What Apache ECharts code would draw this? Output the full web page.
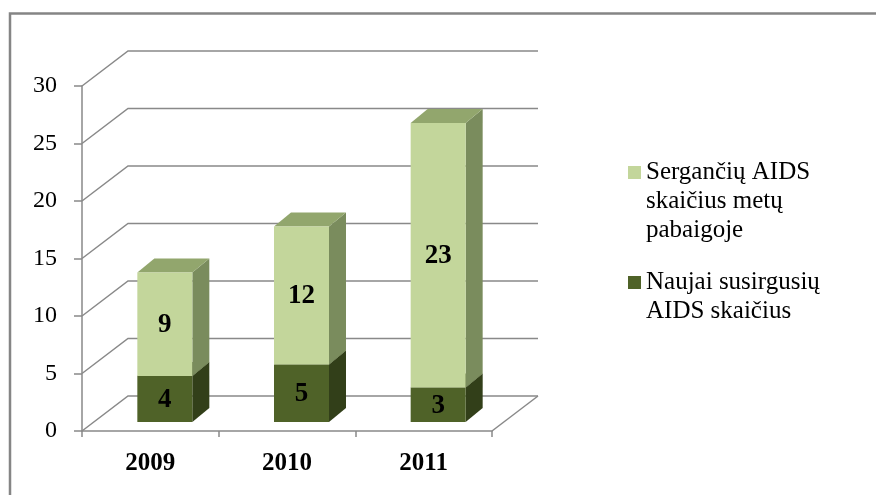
<!DOCTYPE html>
<html><head><meta charset="utf-8">
<script src="https://cdn.jsdelivr.net/npm/echarts@6/dist/echarts.min.js"></script>
<style>html,body{margin:0;padding:0;background:#fff}#c{width:876px;height:495px}</style>
</head><body><div id="c"></div>
<script>
const categories = ['2009', '2010', '2011'];
const newCases = [4, 5, 3];
const endCases = [9, 12, 23];
const yTicks = [0, 5, 10, 15, 20, 25, 30];
const lightName = 'Sergančių AIDS\nskaičius metų\npabaigoje';
const darkName = 'Naujai susirgusių\nAIDS skaičius';

const FONT = 'Liberation Serif';
const GRID = '#898989';
const DX = 46, DY = -35;     // wall depth offset
const BDX = 17, BDY = -14;   // bar depth offset

function wallRender(params, api) {
  const cs = params.coordSys;
  const x0 = cs.x, x1 = cs.x + cs.width;
  const v = api.value(1);
  const y = api.coord([0, v])[1];
  const children = [{
    type: 'polyline',
    shape: { points: [[x0, y], [x0 + DX, y + DY], [x1 + DX, y + DY]] },
    style: { stroke: GRID, lineWidth: 1.5, fill: null }
  }];
  if (v === 0) {
    children.push({
      type: 'polyline',
      shape: { points: [[x1, y], [x1 + DX, y + DY]] },
      style: { stroke: GRID, lineWidth: 1.5, fill: null }
    });
  }
  return { type: 'group', children };
}

function barRender(col) {
  return function (params, api) {
    const i = api.value(0), lo = api.value(1), hi = api.value(2);
    const b = api.coord([i, lo]);
    const t = api.coord([i, hi]);
    const x1 = b[0] - 13, x2 = b[0] + 42;
    const yb = b[1] - 9, yt = t[1] - 9;
    return {
      type: 'group', children: [
        { type: 'polygon', shape: { points: [[x2, yt], [x2 + BDX, yt + BDY], [x2 + BDX, yb + BDY], [x2, yb]] }, style: { fill: col.side } },
        { type: 'polygon', shape: { points: [[x1, yt], [x1 + BDX, yt + BDY], [x2 + BDX, yt + BDY], [x2, yt]] }, style: { fill: col.top } },
        { type: 'rect', shape: { x: x1, y: yt, width: x2 - x1, height: yb - yt }, style: { fill: col.front } },
        { type: 'text', x: (x1 + x2) / 2, y: (yt + yb) / 2 + 1,
          style: { text: String(hi - lo), fill: '#000', font: 'bold 27px "' + FONT + '"', align: 'center', verticalAlign: 'middle' } }
      ]
    };
  };
}

const legendText = { fontFamily: FONT, fontSize: 25, color: '#000', lineHeight: 29 };

const chart = echarts.init(document.getElementById('c'), null, { renderer: 'canvas' });
chart.setOption({
  animation: false,
  backgroundColor: '#fff',
  graphic: [{
    type: 'polyline',
    shape: { points: [[10, 520], [10, 13.5], [900, 13.5]] },
    style: { stroke: '#858585', lineWidth: 2.5, fill: null },
    z: 100
  }],
  grid: { left: 82, top: 86, width: 410, height: 345 },
  xAxis: {
    type: 'category', data: categories, boundaryGap: true,
    axisLine: { lineStyle: { color: GRID, width: 1.5 } },
    axisTick: { show: true, length: 6, alignWithLabel: false, lineStyle: { color: GRID, width: 1.5 } },
    axisLabel: { fontFamily: FONT, fontWeight: 'bold', fontSize: 25, color: '#000', margin: 20 },
    splitLine: { show: false }
  },
  yAxis: {
    type: 'value', min: 0, max: 30, interval: 5,
    axisLine: { show: true, lineStyle: { color: GRID, width: 1.5 } },
    axisTick: { show: true, length: 8, lineStyle: { color: GRID, width: 1.5 } },
    axisLabel: { fontFamily: FONT, fontSize: 24, color: '#000', margin: 25 },
    splitLine: { show: false }
  },
  legend: [{
    data: [lightName],
    formatter: name => '\n\n' + name,
    orient: 'vertical', left: 628, top: 100, padding: 0,
    icon: 'rect', itemWidth: 13, itemHeight: 13,
    selectedMode: false,
    textStyle: legendText
  }, {
    data: [darkName],
    formatter: name => '\n' + name,
    orient: 'vertical', left: 628, top: 239, padding: 0,
    icon: 'rect', itemWidth: 13, itemHeight: 13,
    selectedMode: false,
    textStyle: legendText
  }],
  series: [{
    type: 'custom', name: 'wall', silent: true, z: 1,
    renderItem: wallRender,
    data: yTicks.map(v => [0, v]),
    encode: { x: 0, y: 1 }
  }, {
    type: 'custom', name: darkName, z: 2,
    itemStyle: { color: '#4F6228' },
    renderItem: barRender({ front: '#4F6228', side: '#323F19', top: '#3F4E20' }),
    data: categories.map((c, i) => [i, 0, newCases[i]]),
    encode: { x: 0, y: [1, 2] }
  }, {
    type: 'custom', name: lightName, z: 3,
    itemStyle: { color: '#C3D69B' },
    renderItem: barRender({ front: '#C3D69B', side: '#7A8C5D', top: '#92A66D' }),
    data: categories.map((c, i) => [i, newCases[i], newCases[i] + endCases[i]]),
    encode: { x: 0, y: [1, 2] }
  }]
});
</script>
</body></html>
